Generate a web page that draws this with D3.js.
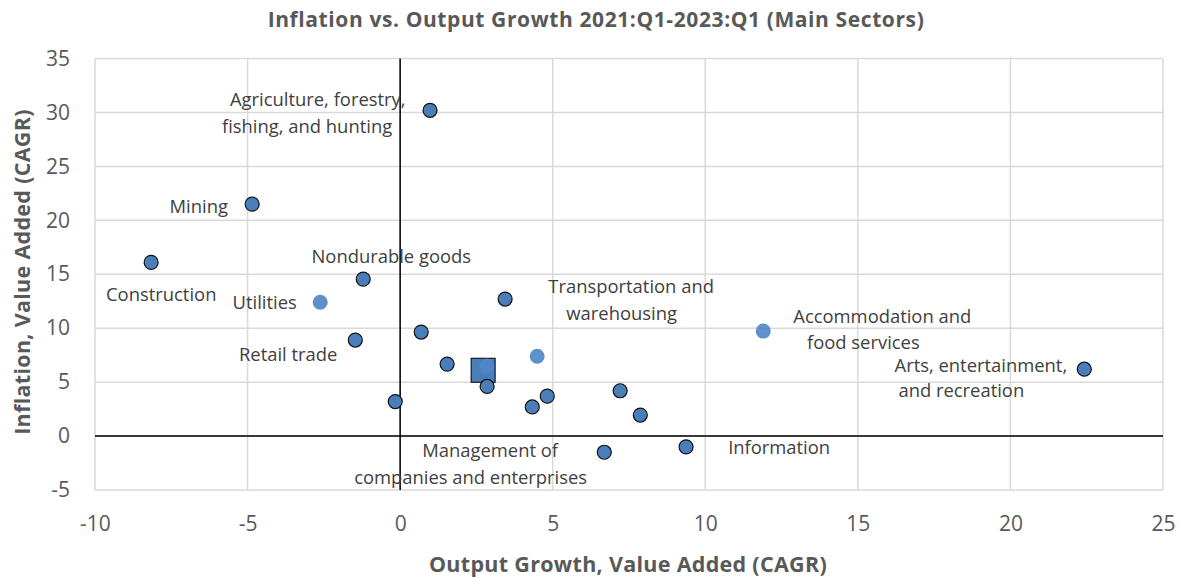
<!DOCTYPE html>
<html>
<head>
<meta charset="utf-8">
<script src="https://cdn.jsdelivr.net/npm/d3@7"></script>
<style>
  body { margin: 0; background: #fff; }
  text { font-family: "Open Sans", sans-serif; }
</style>
</head>
<body>
<svg id="chart" width="1180" height="580"></svg>
<script>
// sector points: output growth (x) and inflation (y), both CAGR %
var outlinedX = [0.98, -4.85, -8.16, -1.21, 3.44, 0.69, -1.47, 1.54, 2.85, -0.16, 4.33, 4.82, 7.21, 7.87, 6.69, 9.37, 22.42];
var outlinedY = [30.2, 21.5, 16.1, 14.55, 12.7, 9.64, 8.9, 6.67, 4.6, 3.2, 2.7, 3.7, 4.2, 1.95, -1.5, -1.0, 6.2];

// points drawn without border (Utilities, Transportation, Accommodation, one hidden by the average)
var plainX = [-2.62, 4.49, 11.9, 2.84];
var plainY = [12.4, 7.4, 9.73, 6.5];

// overall average
var avgX = [2.72];
var avgY = [6.1];

// label lines, each placed at a data position (centre of the line)
var labelText = [
  'Agriculture, forestry,', 'fishing, and hunting', 'Mining', 'Nondurable goods',
  'Construction', 'Utilities', 'Transportation and', 'warehousing',
  'Accommodation and', 'food services', 'Retail trade', 'Arts, entertainment,',
  'and recreation', 'Management of', 'companies and enterprises', 'Information'
];
var labelX = [-2.70, -3.05, -6.60, -0.29, -7.83, -4.44, 7.57, 7.26, 15.80, 15.18, -3.67, 19.03, 18.39, 2.95, 2.31, 12.42];
var labelY = [31.23, 28.73, 21.32, 16.68, 13.16, 12.33, 13.90, 11.40, 11.12, 8.71, 7.51, 6.58, 4.26, -1.39, -3.89, -1.11];

var xTicks = [-10, -5, 0, 5, 10, 15, 20, 25];
var yTicks = [-5, 0, 5, 10, 15, 20, 25, 30, 35];

var svg = d3.select('#chart');
var margin = { top: 58.5, right: 17, bottom: 90, left: 95 };
var width = 1180 - margin.left - margin.right;
var height = 580 - margin.top - margin.bottom;

var x = d3.scaleLinear().domain([-10, 25]).range([0, width]);
var y = d3.scaleLinear().domain([-5, 35]).range([height, 0]);

var g = svg.append('g').attr('transform', 'translate(' + margin.left + ',' + margin.top + ')');

// grid
g.selectAll('line.vgrid').data(xTicks).enter().append('line')
    .attr('class', 'vgrid')
    .attr('x1', function (d) { return x(d); })
    .attr('x2', function (d) { return x(d); })
    .attr('y1', 0)
    .attr('y2', height)
    .attr('stroke', '#d9d9d9')
    .attr('stroke-width', 1.5);

g.selectAll('line.hgrid').data(yTicks).enter().append('line')
    .attr('class', 'hgrid')
    .attr('x1', 0)
    .attr('x2', width)
    .attr('y1', function (d) { return y(d); })
    .attr('y2', function (d) { return y(d); })
    .attr('stroke', '#d9d9d9')
    .attr('stroke-width', 1.5);

// zero axes
g.append('line')
    .attr('x1', x(0)).attr('x2', x(0))
    .attr('y1', 0).attr('y2', height)
    .attr('stroke', '#000').attr('stroke-width', 1.5);

g.append('line')
    .attr('x1', 0).attr('x2', width)
    .attr('y1', y(0)).attr('y2', y(0))
    .attr('stroke', '#000').attr('stroke-width', 1.5);

// tick labels (plain hyphen for negatives, like the original)
var plain = function (d) { return String(d); };

var xAxis = d3.axisBottom(x).tickValues(xTicks).tickSize(0).tickPadding(26).tickFormat(plain);
g.append('g')
    .attr('transform', 'translate(0,' + height + ')')
    .call(xAxis)
    .call(function (a) { a.select('.domain').remove(); })
    .selectAll('text')
    .attr('font-family', '"Open Sans", sans-serif')
    .attr('font-size', 21)
    .attr('fill', '#595959');

var yAxis = d3.axisLeft(y).tickValues(yTicks).tickSize(0).tickPadding(25).tickFormat(plain);
g.append('g')
    .call(yAxis)
    .call(function (a) { a.select('.domain').remove(); })
    .selectAll('text')
    .attr('font-family', '"Open Sans", sans-serif')
    .attr('font-size', 21)
    .attr('fill', '#595959');

// average square
g.selectAll('rect.avg').data(d3.range(avgX.length)).enter().append('rect')
    .attr('class', 'avg')
    .attr('x', function (i) { return x(avgX[i]) - 12; })
    .attr('y', function (i) { return y(avgY[i]) - 12; })
    .attr('width', 24)
    .attr('height', 24)
    .attr('fill', '#4a7ebb')
    .attr('stroke', '#000')
    .attr('stroke-width', 1);

// points
g.selectAll('circle.plain').data(d3.range(plainX.length)).enter().append('circle')
    .attr('class', 'plain')
    .attr('cx', function (i) { return x(plainX[i]); })
    .attr('cy', function (i) { return y(plainY[i]); })
    .attr('r', 7.5)
    .attr('fill', '#5087c8')
    .attr('fill-opacity', 0.92);

g.selectAll('circle.outlined').data(d3.range(outlinedX.length)).enter().append('circle')
    .attr('class', 'outlined')
    .attr('cx', function (i) { return x(outlinedX[i]); })
    .attr('cy', function (i) { return y(outlinedY[i]); })
    .attr('r', 7)
    .attr('fill', '#4a7ebb')
    .attr('stroke', '#111')
    .attr('stroke-width', 1.2);

// labels
g.selectAll('text.label').data(labelText).enter().append('text')
    .attr('class', 'label')
    .attr('x', function (d, i) { return x(labelX[i]); })
    .attr('y', function (d, i) { return y(labelY[i]); })
    .attr('dy', '0.35em')
    .attr('text-anchor', 'middle')
    .attr('font-size', 18.4)
    .attr('fill', '#404040')
    .text(function (d) { return d; });

// titles
svg.append('text')
    .attr('x', 596)
    .attr('y', 20)
    .attr('dy', '0.35em')
    .attr('text-anchor', 'middle')
    .attr('font-size', 21)
    .attr('font-weight', 'bold')
    .attr('letter-spacing', 0.6)
    .attr('fill', '#595959')
    .text('Inflation vs. Output Growth 2021:Q1-2023:Q1 (Main Sectors)');

svg.append('text')
    .attr('x', 628)
    .attr('y', 564)
    .attr('dy', '0.35em')
    .attr('text-anchor', 'middle')
    .attr('font-size', 21.5)
    .attr('font-weight', 'bold')
    .attr('letter-spacing', 0.3)
    .attr('fill', '#595959')
    .text('Output Growth, Value Added (CAGR)');

svg.append('text')
    .attr('transform', 'translate(22,272) rotate(-90)')
    .attr('dy', '0.35em')
    .attr('text-anchor', 'middle')
    .attr('font-size', 21.5)
    .attr('font-weight', 'bold')
    .attr('letter-spacing', 0.3)
    .attr('fill', '#595959')
    .text('Inflation, Value Added (CAGR)');
</script>
</body>
</html>
